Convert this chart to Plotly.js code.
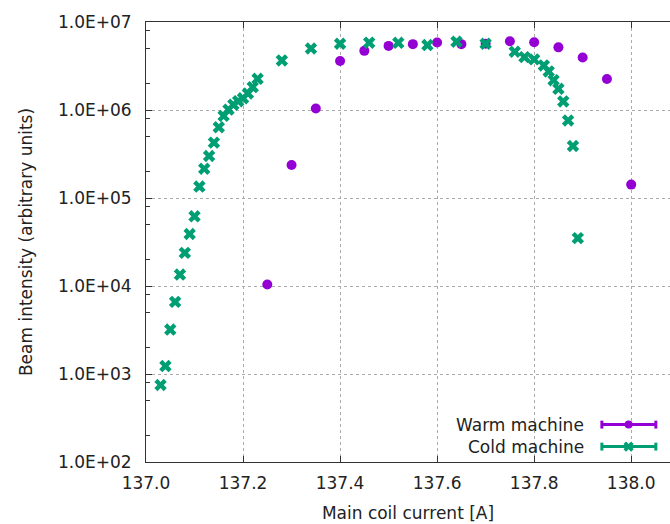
<!DOCTYPE html>
<html>
<head>
<meta charset="utf-8">
<script src="https://cdn.plot.ly/plotly-3.0.1.min.js"></script>
<style>html,body{margin:0;padding:0;background:#fff;}#chart{width:670px;height:524px;}</style>
</head>
<body>
<div id="chart"></div>
<script>
// ---- Data ----
const warmX = [137.25, 137.30, 137.35, 137.40, 137.45, 137.50, 137.55, 137.60, 137.65, 137.70, 137.75, 137.80, 137.85, 137.90, 137.95, 138.00];
const warmY = [1.04e4, 2.37e5, 1.04e6, 3.6e6, 4.7e6, 5.35e6, 5.6e6, 5.85e6, 5.6e6, 5.65e6, 6.05e6, 5.9e6, 5.15e6, 3.95e6, 2.25e6, 1.42e5];

const coldX = [137.03, 137.04, 137.05, 137.06, 137.07, 137.08, 137.09, 137.10, 137.11, 137.12,
               137.13, 137.14, 137.15, 137.16, 137.17, 137.18, 137.19, 137.20, 137.21, 137.22,
               137.23, 137.28, 137.34, 137.40, 137.46, 137.52, 137.58, 137.64, 137.70, 137.76,
               137.78, 137.80, 137.82, 137.83, 137.84, 137.85, 137.86, 137.87, 137.88, 137.89];
const coldY = [750, 1230, 3200, 6600, 13500, 23800, 39000, 62000, 135000, 215000,
               300000, 426000, 637000, 857000, 1.01e6, 1.15e6, 1.26e6, 1.36e6, 1.54e6, 1.82e6,
               2.26e6, 3.66e6, 5.0e6, 5.66e6, 5.82e6, 5.8e6, 5.47e6, 5.97e6, 5.66e6, 4.59e6,
               3.99e6, 3.76e6, 3.21e6, 2.74e6, 2.18e6, 1.74e6, 1.25e6, 7.6e5, 3.9e5, 3.5e4];

const seriesNames = ["Warm machine", "Cold machine"];
const xTickVals = [137.0, 137.2, 137.4, 137.6, 137.8, 138.0];
const xTickText = ["137.0", "137.2", "137.4", "137.6", "137.8", "138.0"];
const yTickVals = [1e2, 1e3, 1e4, 1e5, 1e6, 1e7];
const yTickText = ["1.0E+02", "1.0E+03", "1.0E+04", "1.0E+05", "1.0E+06", "1.0E+07"];

// ---- Styles ----
const warmColor = "#9400d3";
const coldColor = "#009e73";
const font = "DejaVu Sans, sans-serif";
const fs = 17;
const textColor = "#222";
const axisColor = "#333";

const minorVals = [];
for (let d = 2; d < 7; d++) { [2, 5, 8].forEach(m => minorVals.push(m * Math.pow(10, d))); }

const traces = [
  { x: warmX, y: warmY, type: "scatter", mode: "markers", name: seriesNames[0], showlegend: false,
    marker: { symbol: "circle", size: 10, color: warmColor } },
  { x: coldX, y: coldY, type: "scatter", mode: "markers", name: seriesNames[1], showlegend: false,
    marker: { symbol: "x", size: 11, color: coldColor } }
];

// legend samples (drawn on an overlay axis in plot-fraction units)
const legX0 = 0.870, legX1 = 0.973, legXc = 0.921;
const legRows = [0.085, 0.035];
traces.push({ x: [legXc], y: [legRows[0]], xaxis: "x2", yaxis: "y2", mode: "markers", showlegend: false, hoverinfo: "skip",
  marker: { symbol: "circle", size: 8, color: warmColor } });
traces.push({ x: [legXc], y: [legRows[1]], xaxis: "x2", yaxis: "y2", mode: "markers", showlegend: false, hoverinfo: "skip",
  marker: { symbol: "x", size: 9, color: coldColor } });

const shapes = [];
const annotations = [];
[warmColor, coldColor].forEach((c, i) => {
  const yy = legRows[i];
  shapes.push({ type: "line", xref: "x2", yref: "y2", x0: legX0, x1: legX1, y0: yy, y1: yy, line: { color: c, width: 3 } });
  [legX0, legX1].forEach(xx => shapes.push({ type: "line", xref: "x2", yref: "y2", x0: xx, x1: xx, y0: yy - 0.009, y1: yy + 0.009, line: { color: c, width: 3 } }));
  annotations.push({ xref: "x2", yref: "y2", x: legX0 - 0.03, y: yy, text: seriesNames[i], showarrow: false,
    xanchor: "right", yanchor: "middle", font: { family: font, size: fs, color: textColor } });
});

const layout = {
  width: 670, height: 524,
  margin: { l: 146, r: 0, t: 22, b: 62 },
  paper_bgcolor: "#fff", plot_bgcolor: "#fff",
  showlegend: false,
  font: { family: font, size: fs, color: textColor },
  xaxis: {
    range: [137.0, 138.08], tickmode: "array", tickvals: xTickVals, ticktext: xTickText,
    ticks: "inside", ticklen: 6, tickcolor: axisColor, tickwidth: 1,
    showline: true, linecolor: axisColor, linewidth: 1, mirror: "ticks",
    showgrid: true, gridcolor: "#aaa", griddash: "dot", gridwidth: 1, zeroline: false,
    tickfont: { family: font, size: fs, color: textColor }, ticklabelstandoff: 6,
    title: { text: "Main coil current [A]", font: { family: font, size: fs, color: textColor }, standoff: 14 }
  },
  yaxis: {
    type: "log", range: [2, 7], tickmode: "array", tickvals: yTickVals, ticktext: yTickText,
    ticks: "inside", ticklen: 6, tickcolor: axisColor, tickwidth: 1,
    showline: true, linecolor: axisColor, linewidth: 1, mirror: false,
    showgrid: true, gridcolor: "#aaa", griddash: "dot", gridwidth: 1, zeroline: false,
    minor: { tickmode: "array", tickvals: minorVals, ticks: "inside", ticklen: 4, tickcolor: axisColor, showgrid: false },
    tickfont: { family: font, size: fs, color: textColor }, ticklabelstandoff: 10,
    title: { text: "Beam intensity (arbitrary units)", font: { family: font, size: fs, color: textColor }, standoff: 20 }
  },
  xaxis2: { overlaying: "x", range: [0, 1], visible: false, anchor: "y2", fixedrange: true },
  yaxis2: { overlaying: "y", range: [0, 1], visible: false, anchor: "x2", fixedrange: true },
  shapes: shapes,
  annotations: annotations
};

Plotly.newPlot("chart", traces, layout, { displayModeBar: false, staticPlot: true });
</script>
</body>
</html>
